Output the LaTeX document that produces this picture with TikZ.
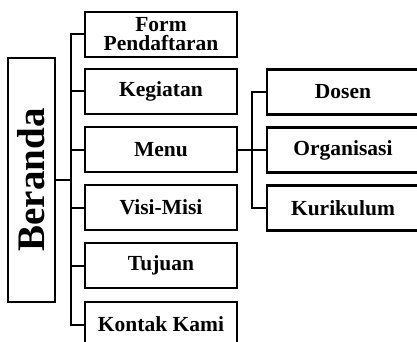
\documentclass[tikz,border=0pt]{standalone}
\usepackage{fontspec}
\setmainfont{Liberation Serif}
\begin{document}
\begin{tikzpicture}[x=1pt,y=-1pt,
  box/.style={draw=black,line width=2.6pt,minimum width=152pt,minimum height=45pt,inner sep=0pt,align=center,font=\fontsize{21.5}{19}\selectfont\bfseries},
  rbox/.style={box},
  conn/.style={line width=2pt}]
\useasboundingbox (0,0) rectangle (417,342);
\clip (0,0) rectangle (417,342);
\node[draw=black,line width=2.6pt,minimum width=244pt,minimum height=47pt,inner sep=0pt,rotate=90,font=\fontsize{39}{40}\selectfont\bfseries] (ber) at (31.5,180) {Beranda};
\node[box] (form) at (161,34.5) {Form\\Pendaftaran};
\node[box] (keg) at (161,91.5) {Kegiatan};
\node[box] (menu) at (161,149.5) {Menu};
\node[box] (visi) at (161,207.5) {Visi-Misi};
\node[box] (tuj) at (161,265.5) {Tujuan};
\node[box] (kon) at (161,324.5) {Kontak Kami};
\node[rbox] (dos) at (343,92) {Dosen};
\node[rbox] (org) at (343,150) {Organisasi};
\node[rbox] (kur) at (343,208) {Kurikulum};
\coordinate (j1) at (71,180);
\draw[conn] (ber.south |- j1) -- (j1);
\draw[conn] (form.west) -| (j1) |- (kon.west);
\foreach \n in {keg,menu,visi,tuj} \draw[conn] (71,0 |- \n.west) -- (\n.west);
\coordinate (j2) at (252,149.5);
\draw[conn] (menu.east) -- (j2);
\draw[conn] (dos.west) -| (j2) |- (kur.west);
\draw[conn] (j2 |- org.west) -- (org.west);
\end{tikzpicture}
\end{document}
